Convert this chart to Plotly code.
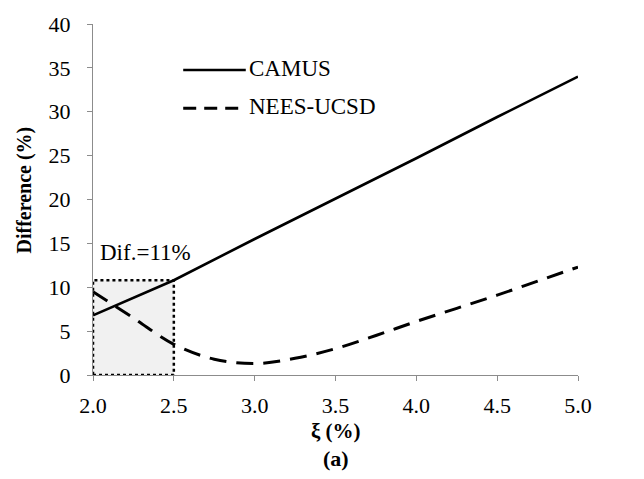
import plotly.graph_objects as go

# Damping ratio (%) and difference (%) for each model
xi_camus = [2.0, 2.5, 3.0, 3.5, 4.0, 4.5, 5.0]
diff_camus = [6.8, 10.8, 15.5, 20.1, 24.7, 29.4, 34.0]

xi_nees = [2.0, 2.25, 2.5, 2.75, 3.0, 3.25, 3.5, 3.75, 4.0, 4.25, 4.5, 4.75, 5.0]
diff_nees = [9.5, 6.5, 3.5, 1.8, 1.3, 1.9, 3.0, 4.5, 6.1, 7.6, 9.1, 10.7, 12.3]

x_ticks = [2.0, 2.5, 3.0, 3.5, 4.0, 4.5, 5.0]
y_ticks = [0, 5, 10, 15, 20, 25, 30, 35, 40]

# Highlighted region
box_x = [2.0, 2.5]
box_y = [0, 10.8]
box_label = "Dif.=11%"

FONT = "Liberation Serif, Times New Roman, serif"
AXIS_GREY = "#8c8c8c"

fig = go.Figure()

fig.add_shape(type="rect", xref="x", yref="y",
              x0=box_x[0], x1=box_x[1], y0=box_y[0], y1=box_y[1],
              fillcolor="#f1f1f1", line=dict(color="black", width=2.5, dash="dot"),
              layer="below")

fig.add_trace(go.Scatter(x=xi_camus, y=diff_camus, mode="lines", name="CAMUS",
                         line=dict(color="black", width=2.6), showlegend=False))
fig.add_trace(go.Scatter(x=xi_nees, y=diff_nees, mode="lines", name="NEES-UCSD",
                         line=dict(color="black", width=3, dash="17px,10px", shape="spline"),
                         showlegend=False))

# Hand-drawn legend
fig.add_shape(type="line", xref="paper", yref="paper",
              x0=0.186, x1=0.315, y0=0.869, y1=0.869,
              line=dict(color="black", width=2.6))
fig.add_shape(type="line", xref="paper", yref="paper",
              x0=0.186, x1=0.307, y0=0.760, y1=0.760,
              line=dict(color="black", width=3, dash="13px,8px"))
fig.add_annotation(xref="paper", yref="paper", x=0.318, y=0.872, text="CAMUS",
                   showarrow=False, xanchor="left", yanchor="middle",
                   font=dict(family=FONT, size=23, color="black"))
fig.add_annotation(xref="paper", yref="paper", x=0.318, y=0.766, text="NEES-UCSD",
                   showarrow=False, xanchor="left", yanchor="middle",
                   font=dict(family=FONT, size=23, color="black"))

fig.add_annotation(xref="x", yref="y", x=box_x[0], y=14.0, text=box_label,
                   showarrow=False, xanchor="left", yanchor="middle", xshift=5,
                   font=dict(family=FONT, size=23, color="black"))

# Axis titles and panel label
fig.add_annotation(xref="paper", yref="paper", x=0.5, y=-0.16, text="<b>ξ (%)</b>",
                   showarrow=False, xanchor="center", yanchor="middle",
                   font=dict(family=FONT, size=21, color="black"))
fig.add_annotation(xref="paper", yref="paper", x=0.5, y=-0.238, text="<b>(a)</b>",
                   showarrow=False, xanchor="center", yanchor="middle",
                   font=dict(family=FONT, size=22, color="black"))
fig.add_annotation(xref="paper", yref="paper", x=-0.142, y=0.526,
                   text="<b>Difference (%)</b>", textangle=-90,
                   showarrow=False, xanchor="center", yanchor="middle",
                   font=dict(family=FONT, size=20, color="black"))

fig.update_layout(
    width=644, height=479,
    margin=dict(l=93, r=66, t=16, b=104),
    paper_bgcolor="white", plot_bgcolor="white",
    font=dict(family=FONT, size=20, color="black"),
    xaxis=dict(range=[2.0, 5.0], tickvals=x_ticks,
               ticktext=[f"{v:.1f}" for v in x_ticks],
               showgrid=False, zeroline=False, showline=True,
               linecolor=AXIS_GREY, linewidth=1.2,
               ticks="outside", ticklen=5, tickcolor=AXIS_GREY,
               ticklabelstandoff=5,
               tickfont=dict(family=FONT, size=22)),
    yaxis=dict(range=[0, 40], tickvals=y_ticks,
               showgrid=False, zeroline=False, showline=True,
               linecolor=AXIS_GREY, linewidth=1.2,
               ticks="outside", ticklen=5, tickcolor=AXIS_GREY,
               ticklabelstandoff=12,
               tickfont=dict(family=FONT, size=22)),
)

fig.write_html("out.html")
